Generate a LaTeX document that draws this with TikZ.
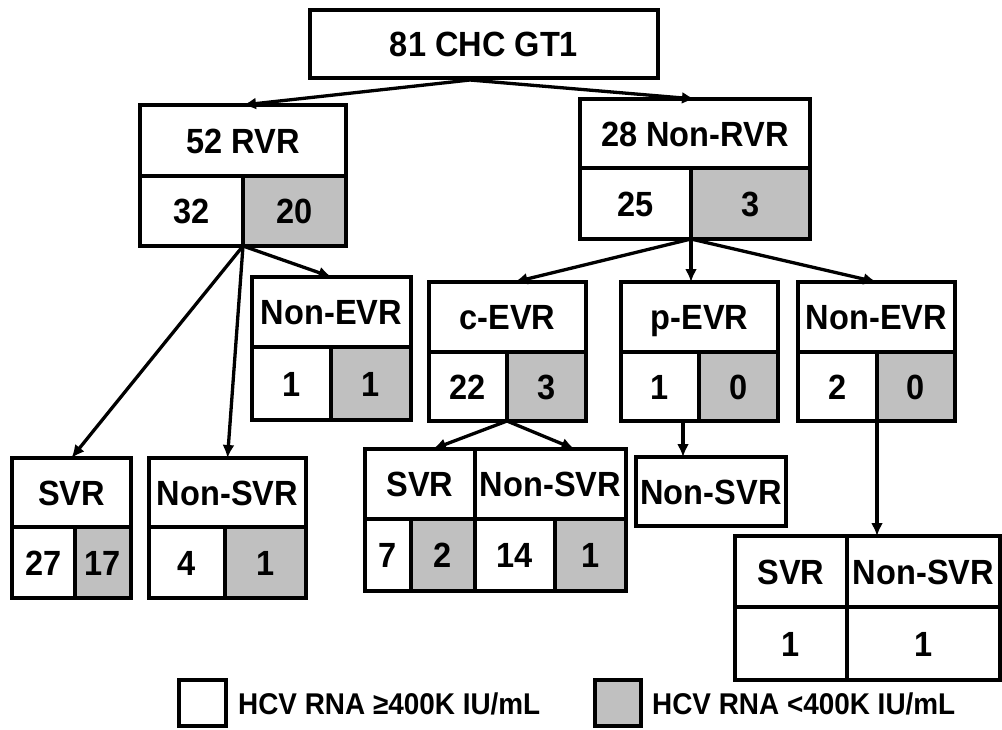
\documentclass[tikz,border=0pt]{standalone}
\usepackage{fontspec}
\setmainfont{Liberation Sans}
\newfontfamily\diagfont[FakeStretch=0.93]{Liberation Sans}
\usetikzlibrary{arrows.meta,calc}
\definecolor{cellgray}{HTML}{C0C0C0}
\tikzset{
  cellbox/.style={draw, line width=4.5pt, inner sep=0pt, outer sep=0pt,
    font=\diagfont\fontsize{35}{38}\selectfont\bfseries, text height=25pt, text depth=0pt},
  link/.style={line width=3.3pt, -{Latex[length=13pt,width=12pt]}},
  legendtext/.style={font=\diagfont\fontsize{30}{34}\selectfont\bfseries, anchor=west,
    inner sep=0pt, text height=21.5pt, text depth=0pt}
}
\newcommand{\cell}[7]{\node[cellbox, fill=#6, minimum width={(#4-#2)*1pt},
  minimum height={(#5-#3)*1pt}] (#1) at ({(#2+#4)/2},{(#3+#5)/2}) {#7};}
\begin{document}
\begin{tikzpicture}[x=1pt,y=-1pt]
\useasboundingbox (0,0) rectangle (1002,729);
% top
\cell{top}{310}{10}{658}{78}{white}{81 CHC GT1}
% 52 RVR
\cell{rvr}{140}{105}{346}{176}{white}{52 RVR}
\cell{rvrA}{140}{176}{243}{246}{white}{32}
\cell{rvrB}{243}{176}{346}{246}{cellgray}{20}
% 28 Non-RVR
\cell{nrvr}{580}{99}{810}{168}{white}{28 Non-RVR}
\cell{nrvrA}{580}{168}{691}{239}{white}{25}
\cell{nrvrB}{691}{168}{810}{239}{cellgray}{3}
% Non-EVR (left)
\cell{nevrL}{252}{277}{411}{347}{white}{Non-EVR}
\cell{nevrLA}{252}{347}{331}{420}{white}{1}
\cell{nevrLB}{331}{347}{411}{420}{cellgray}{1}
% c-EVR
\cell{cevr}{429}{282}{586}{352}{white}{c-EVR}
\cell{cevrA}{429}{352}{507}{421}{white}{22}
\cell{cevrB}{507}{352}{586}{421}{cellgray}{3}
% p-EVR
\cell{pevr}{621}{282}{778}{352}{white}{p-EVR}
\cell{pevrA}{621}{352}{699}{421}{white}{1}
\cell{pevrB}{699}{352}{778}{421}{cellgray}{0}
% Non-EVR (right)
\cell{nevrR}{798}{282}{955}{352}{white}{Non-EVR}
\cell{nevrRA}{798}{352}{877}{421}{white}{2}
\cell{nevrRB}{877}{352}{955}{421}{cellgray}{0}
% SVR (left)
\cell{svrL}{12}{458}{131}{527}{white}{SVR}
\cell{svrLA}{12}{527}{75}{598}{white}{27}
\cell{svrLB}{75}{527}{131}{598}{cellgray}{17}
% Non-SVR (left)
\cell{nsvrL}{149}{458}{306}{527}{white}{Non-SVR}
\cell{nsvrLA}{149}{527}{225}{598}{white}{4}
\cell{nsvrLB}{225}{527}{306}{598}{cellgray}{1}
% c-EVR children
\cell{csvr}{365}{449}{475}{519}{white}{SVR}
\cell{cnsvr}{475}{449}{626}{519}{white}{Non-SVR}
\cell{cA}{365}{519}{411}{591}{white}{7}
\cell{cB}{411}{519}{475}{591}{cellgray}{2}
\cell{cC}{475}{519}{555}{591}{white}{14}
\cell{cD}{555}{519}{626}{591}{cellgray}{1}
% p-EVR child
\cell{psvr}{636}{457}{786}{526}{white}{Non-SVR}
% bottom right
\cell{brs}{735}{536}{847}{607}{white}{SVR}
\cell{brn}{847}{536}{1000}{607}{white}{Non-SVR}
\cell{brA}{735}{607}{847}{680}{white}{1}
\cell{brB}{847}{607}{1000}{680}{white}{1}
% legend
\cell{legW}{179}{680}{226}{726}{white}{}
\cell{legG}{595}{680}{641}{726}{cellgray}{}
\node[legendtext] (legWt) at (238,704) {HCV RNA ≥400K IU/mL};
\node[legendtext] (legGt) at (652,704) {HCV RNA <400K IU/mL};
% connectors
\coordinate (topout) at (470,80);
\draw[link] (topout) -- (rvr.north);
\draw[link] (topout) -- (nrvr.north);
\draw[link] (rvrA.south east) -- (svrL.north);
\draw[link] (rvrA.south east) -- (nsvrL.north);
\draw[link] (rvrA.south east) -- (nevrL.north);
\draw[link] (nrvrA.south east) -- ($(cevr.north)+(7,0)$);
\draw[link] (nrvrA.south east) -- (nrvrA.south east |- pevr.north);
\draw[link] (nrvrA.south east) -- (nevrR.north);
\draw[link] (cevrA.south east) -- ($(csvr.north)+(13,0)$);
\draw[link] (cevrA.south east) -- ($(cnsvr.north)+(24,0)$);
\coordinate (pout) at (683,421);
\draw[link] (pout) -- (pout |- psvr.north);
\draw[link] (nevrRA.south east) -- (nevrRA.south east |- brn.north);
\end{tikzpicture}
\end{document}
